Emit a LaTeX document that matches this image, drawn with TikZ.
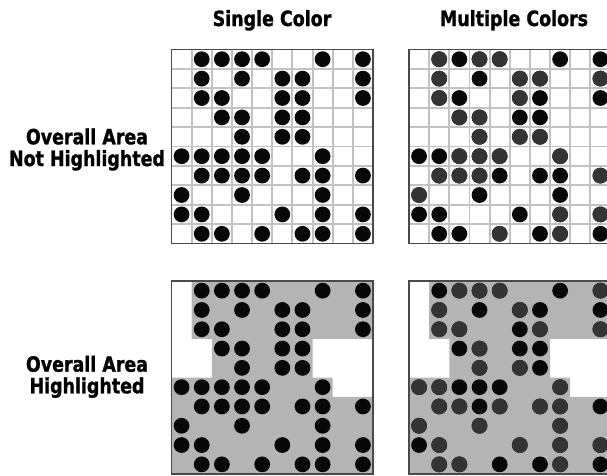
\documentclass[tikz,border=0pt]{standalone}
\usepackage{fontspec}
\setmainfont{DejaVu Sans}[FakeStretch=0.83, BoldFeatures={FakeBold=1.2}]

\definecolor{gridgray}{HTML}{C2C2C2}
\definecolor{framegray}{HTML}{4A4A4A}
\definecolor{areagray}{HTML}{B4B4B4}
\definecolor{dotblack}{HTML}{080808}
\definecolor{dotdark}{HTML}{343434}

\tikzset{
  heading/.style={font=\fontsize{21}{22}\selectfont\bfseries, inner sep=0pt, anchor=base},
  cellline/.style={draw=gridgray, line width=1.9pt},
  frameline/.style={draw=framegray, line width=1.5pt},
  panel/.style={x=20.15pt, y=-19.4pt},
}

% row/column of every dot
\newcommand{\dotcells}{0/1,0/2,0/3,0/4,0/7,0/9,
  1/1,1/3,1/5,1/6,1/9,
  2/1,2/2,2/5,2/6,2/9,
  3/2,3/3,3/5,3/6,
  4/3,4/5,4/6,
  5/0,5/1,5/2,5/3,5/4,5/7,
  6/1,6/2,6/3,6/4,6/6,6/7,6/9,
  7/0,7/3,7/7,
  8/0,8/1,8/5,8/7,8/9,
  9/1,9/2,9/4,9/6,9/7,9/9}
% dots in the lighter colour
\newcommand{\darkcellsA}{0/1,0/3,0/4,1/1,1/5,1/6,1/9,2/1,2/5,3/2,3/3,
  4/3,4/5,4/6,5/2,5/3,5/4,5/7,6/1,6/2,6/3,6/9,7/0,8/7,8/9,9/4,9/7}
\newcommand{\darkcellsB}{0/2,0/3,0/4,0/9,1/1,1/5,2/1,2/2,2/6,2/9,3/3,
  4/3,4/5,5/0,5/1,5/7,6/1,6/2,6/4,6/6,6/7,7/0,7/3,7/7,8/1,8/5,8/7,8/9,9/1,9/2,9/7}

\newcommand{\areashape}{(1,0) -- (10,0) -- (10,3) -- (7,3) -- (7,5) -- (8,5)
  -- (8,6) -- (10,6) -- (10,10) -- (0,10) -- (0,5) -- (2,5) -- (2,3) -- (1,3) -- cycle}

\begin{document}
\begin{tikzpicture}[x=1pt,y=-1pt]
  \useasboundingbox (0,0) rectangle (607,475);
  \clip (0,0) rectangle (607,475);
  \coordinate (NW) at (171.5,49.5);
  \coordinate (NE) at (409,49.5);
  \coordinate (SW) at (171.5,281);
  \coordinate (SE) at (409,281);

  \node[heading] (single) at (272,26) {Single Color};
  \node[heading] (multi) at (514,26) {Multiple Colors};
  \node[heading] (plainA) at (87,144.3) {Overall Area};
  \node[heading] (plainB) at (87,166) {Not Highlighted};
  \node[heading] (markA) at (87,371.7) {Overall Area};
  \node[heading] (markB) at (87,393.3) {Highlighted};

  % top row: grid of cells
  \foreach \corner in {NW,NE} {
    \begin{scope}[panel, shift={(\corner)}]
      \foreach \i in {1,...,9} {
        \draw[cellline] (\i,0) -- (\i,10);
        \draw[cellline] (0,\i) -- (10,\i);
      }
      \draw[frameline] (0,0) rectangle (10,10);
      \foreach \r/\c in \dotcells
        \fill[dotblack] (\c+0.5,\r+0.5) circle[radius=7.9pt];
    \end{scope}
  }
  \begin{scope}[panel, shift={(NE)}]
    \foreach \r/\c in \darkcellsA
      \fill[dotdark] (\c+0.5,\r+0.5) circle[radius=7.9pt];
  \end{scope}

  % bottom row: shaded area
  \foreach \corner in {SW,SE} {
    \begin{scope}[panel, y=-19.3pt, shift={(\corner)}]
      \fill[areagray] \areashape;
      \draw[frameline] (0,0) rectangle (10,10);
      \foreach \r/\c in \dotcells
        \fill[dotblack] (\c+0.5,\r+0.5) circle[radius=7.9pt];
    \end{scope}
  }
  \begin{scope}[panel, y=-19.3pt, shift={(SE)}]
    \foreach \r/\c in \darkcellsB
      \fill[dotdark] (\c+0.5,\r+0.5) circle[radius=7.9pt];
  \end{scope}
\end{tikzpicture}
\end{document}
